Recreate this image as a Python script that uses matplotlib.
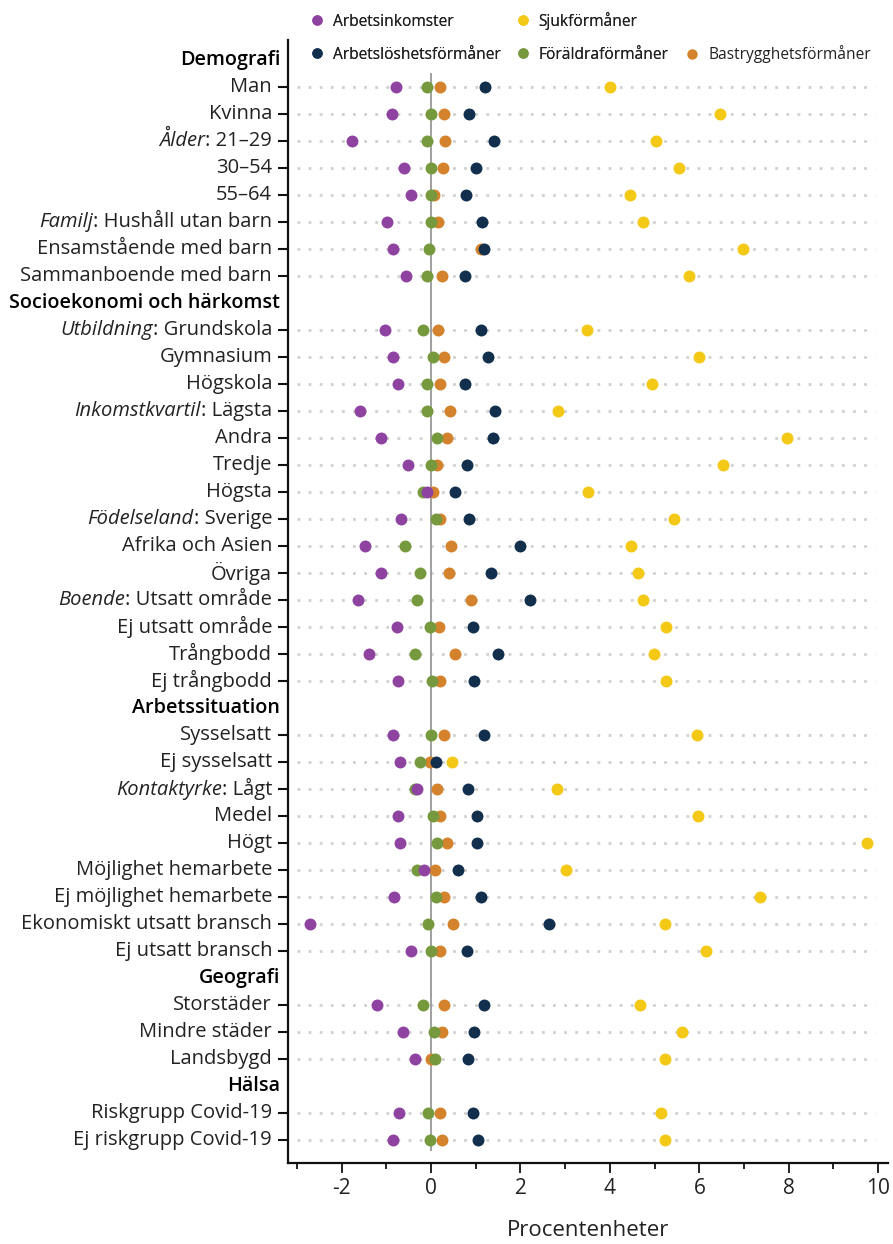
import matplotlib
matplotlib.use("Agg")
import matplotlib.pyplot as plt
from matplotlib.lines import Line2D
from matplotlib.ticker import FixedLocator
import numpy as np

plt.rcParams['font.family'] = ['Open Sans', 'DejaVu Sans']

# ---------------- data ----------------
row_labels = [
    "Demografi", "Man", "Kvinna", "*Ålder*: 21–29", "30–54", "55–64",
    "*Familj*: Hushåll utan barn", "Ensamstående med barn", "Sammanboende med barn",
    "Socioekonomi och härkomst", "*Utbildning*: Grundskola", "Gymnasium", "Högskola",
    "*Inkomstkvartil*: Lägsta", "Andra", "Tredje", "Högsta",
    "*Födelseland*: Sverige", "Afrika och Asien", "Övriga",
    "*Boende*: Utsatt område", "Ej utsatt område", "Trångbodd", "Ej trångbodd",
    "Arbetssituation", "Sysselsatt", "Ej sysselsatt", "*Kontaktyrke*: Lågt", "Medel", "Högt",
    "Möjlighet hemarbete", "Ej möjlighet hemarbete", "Ekonomiskt utsatt bransch", "Ej utsatt bransch",
    "Geografi", "Storstäder", "Mindre städer", "Landsbygd",
    "Hälsa", "Riskgrupp Covid-19", "Ej riskgrupp Covid-19",
]
headers = ["Demografi", "Socioekonomi och härkomst", "Arbetssituation", "Geografi", "Hälsa"]

series_names = ["Arbetsinkomster", "Sjukförmåner", "Arbetslöshetsförmåner",
                "Föräldraförmåner", "Bastrygghetsförmåner"]

arbetsinkomster = [-0.78, -0.88, -1.77, -0.61, -0.45, -0.98, -0.85, -0.55,
                   -1.03, -0.86, -0.73, -1.59, -1.12, -0.52, -0.09, -0.67, -1.48, -1.12,
                   -1.63, -0.77, -1.38, -0.74,
                   -0.86, -0.70, -0.31, -0.74, -0.70, -0.15, -0.82, -2.71, -0.45,
                   -1.21, -0.62, -0.36,
                   -0.71, -0.86]
sjukformaner = [4.01, 6.46, 5.02, 5.55, 4.46, 4.75, 6.98, 5.77,
                3.49, 6.00, 4.95, 2.85, 7.97, 6.52, 3.50, 5.43, 4.48, 4.62,
                4.75, 5.25, 4.99, 5.25,
                5.95, 0.46, 2.81, 5.97, 9.76, 3.02, 7.35, 5.24, 6.14,
                4.67, 5.62, 5.24,
                5.15, 5.23]
arbetsloshet = [1.21, 0.85, 1.41, 1.00, 0.79, 1.15, 1.18, 0.77,
                1.12, 1.28, 0.75, 1.42, 1.39, 0.81, 0.53, 0.85, 2.00, 1.34,
                2.21, 0.94, 1.50, 0.96,
                1.19, 0.11, 0.83, 1.02, 1.02, 0.60, 1.12, 2.64, 0.81,
                1.19, 0.96, 0.83,
                0.94, 1.06]
foraldra = [-0.08, 0.00, -0.10, -0.01, -0.01, -0.01, -0.04, -0.08,
            -0.17, 0.04, -0.08, -0.09, 0.13, -0.01, -0.17, 0.10, -0.58, -0.24,
            -0.31, -0.03, -0.36, 0.02,
            -0.01, -0.24, -0.35, 0.04, 0.14, -0.31, 0.10, -0.06, 0.00,
            -0.17, 0.06, 0.08,
            -0.06, -0.03]
bastrygghet = [0.19, 0.28, 0.31, 0.27, 0.06, 0.16, 1.12, 0.24,
               0.16, 0.30, 0.20, 0.42, 0.35, 0.14, 0.04, 0.21, 0.44, 0.39,
               0.89, 0.17, 0.54, 0.19,
               0.28, -0.03, 0.13, 0.20, 0.36, 0.09, 0.29, 0.50, 0.21,
               0.30, 0.24, -0.01,
               0.20, 0.24]

xticks = [-2, 0, 2, 4, 6, 8, 10]
xlabel = "Procentenheter"

# ---------------- styling ----------------
colors = {
    "Arbetsinkomster": "#8E43A0",
    "Sjukförmåner": "#F3C915",
    "Arbetslöshetsförmåner": "#12304D",
    "Föräldraförmåner": "#76993E",
    "Bastrygghetsförmåner": "#D4832C",
}
zorders = {"Bastrygghetsförmåner": 3, "Föräldraförmåner": 4, "Arbetsinkomster": 5,
           "Arbetslöshetsförmåner": 6, "Sjukförmåner": 7}
values = {"Arbetsinkomster": arbetsinkomster, "Sjukförmåner": sjukformaner,
          "Arbetslöshetsförmåner": arbetsloshet, "Föräldraförmåner": foraldra,
          "Bastrygghetsförmåner": bastrygghet}

fig = plt.figure(figsize=(8.93, 12.44), dpi=100)
ax = fig.add_axes([288 / 893, 81 / 1244, 600 / 893, (1163 - 40) / 1244])

data_rows = [i for i, l in enumerate(row_labels) if l not in headers]
yd = np.array(data_rows)

# dotted guide lines
ax.hlines(yd, -3, 9.92, colors="#d0d0d0", linestyles=(0, (1, 3.0)), linewidth=2.0, zorder=1)
# zero line
ax.vlines(0, data_rows[0] - 0.52, data_rows[-1] + 0.42, colors="#999999", linewidth=1.3, zorder=2)

for name in series_names:
    ax.plot(values[name], yd, linestyle="none", marker="o", markersize=8.6,
            color=colors[name], markeredgewidth=0, zorder=zorders[name])

ax.set_xlim(-3.2, 10.22)
ax.set_ylim(40.85, -0.74)
ax.xaxis.set_major_locator(FixedLocator(xticks))
ax.xaxis.set_minor_locator(FixedLocator([-3, -1, 1, 3, 5, 7, 9]))
ax.set_xticklabels([str(t) for t in xticks], fontsize=15, color="#222222")
ax.tick_params(axis="x", which="major", length=7, width=1.3, pad=4, color="#111111")
ax.tick_params(axis="x", which="minor", length=4.5, width=1.3, color="#111111")
ax.set_yticks(yd)
ax.set_yticklabels([""] * len(yd))
ax.tick_params(axis="y", length=7, width=1.5, color="#111111")
ax.set_xlabel(xlabel, fontsize=16, labelpad=15, color="#222222")

for s in ["top", "right"]:
    ax.spines[s].set_visible(False)
for s in ["left", "bottom"]:
    ax.spines[s].set_linewidth(1.6)
    ax.spines[s].set_color("#111111")

ytr = ax.get_yaxis_transform()
fs = 14.5
for i, lab in enumerate(row_labels):
    if lab in headers:
        ax.annotate(lab, xy=(0, i), xycoords=ytr, xytext=(-5.5, 0), textcoords="offset points",
                    ha="right", va="center", fontsize=14.2, fontweight="semibold", color="black")
        continue
    if lab.startswith("*"):
        it, rest = lab[1:].split("*", 1)
        t = ax.annotate(rest, xy=(0, i), xycoords=ytr, xytext=(-11.5, 0), textcoords="offset points",
                        ha="right", va="center", fontsize=fs, color="#222222")
        ax.annotate(it, xy=(0, 0), xycoords=t, ha="right", va="bottom", fontsize=fs,
                    style="italic", color="#222222")
    else:
        ax.annotate(lab, xy=(0, i), xycoords=ytr, xytext=(-11.5, 0), textcoords="offset points",
                    ha="right", va="center", fontsize=fs, color="#222222")

# legend: two columns of two entries, plus a third column with one entry on row 2
def handle(c):
    return Line2D([], [], linestyle="none", marker="o", markersize=7.5, color=c, markeredgewidth=0)

leg_kw = dict(frameon=False, fontsize=11.2, handlelength=1.0, handletextpad=0.5,
              borderaxespad=0, borderpad=0.3, labelcolor="#222222")
main_names = ["Arbetsinkomster", "Arbetslöshetsförmåner", "Sjukförmåner", "Föräldraförmåner"]
leg1 = fig.legend([handle(colors[n]) for n in main_names], main_names, ncol=2,
                  loc="upper left", bbox_to_anchor=(305 / 893, 1 - 7 / 1244),
                  columnspacing=0.9, labelspacing=1.1, **leg_kw)
leg2 = fig.legend([handle(colors["Bastrygghetsförmåner"])], ["Bastrygghetsförmåner"],
                  loc="center left", bbox_to_anchor=(680 / 893, 1 - 54 / 1244), **leg_kw)
fig.add_artist(leg1)

fig.savefig("out.png", dpi=100)
